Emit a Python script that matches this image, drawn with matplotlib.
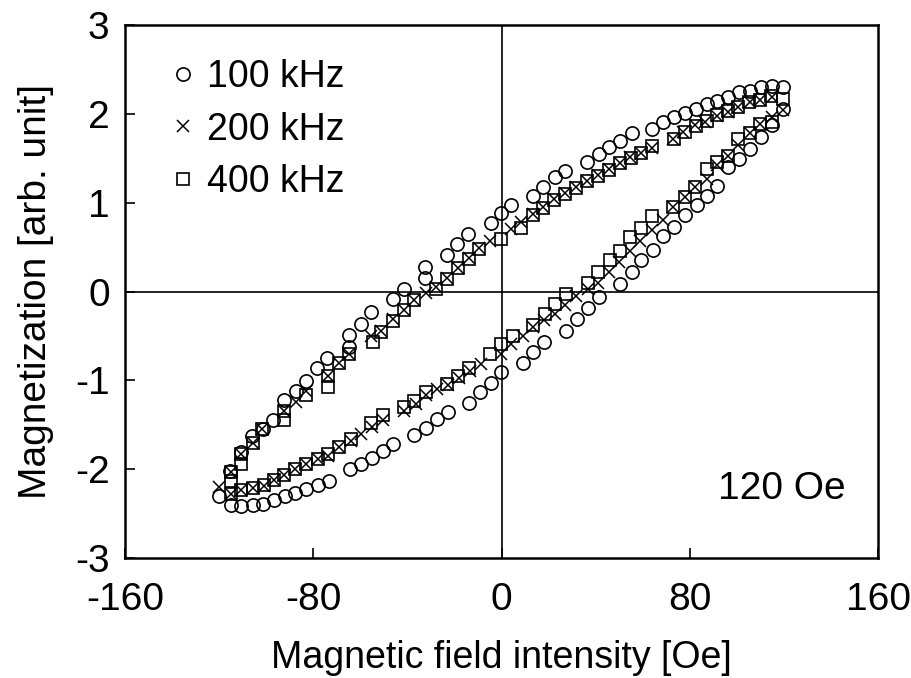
import numpy as np
import matplotlib
matplotlib.use("Agg")
import matplotlib.pyplot as plt

plt.rcParams['font.family'] = ['Liberation Sans', 'DejaVu Sans']

# 100 kHz (circles): lower branch then upper branch
h100 = [-120.0, -115.0, -110.5, -105.8, -101.2, -96.6, -92.1, -87.6, -83.0, -78.2, -73.5,
        -64.5, -59.7, -55.1, -50.5, -46.2, -37.0, -32.3, -27.5, -22.8, -13.9, -9.2, -4.4,
        -0.1, 9.1, 13.3, 17.9, 27.2, 32.0, 36.7, 41.4, 50.2, 55.2, 59.4, 64.2, 68.6, 73.4,
        77.9, 82.8, 87.1, 91.5, 96.3, 100.8, 105.5, 110.0, 114.8, 119.4,
        119.4, 114.8, 110.1, 105.5, 101.0, 96.2, 91.6, 87.1, 82.5, 77.9, 73.2, 68.6, 64.1,
        55.2, 50.2, 45.6, 41.3, 36.3, 26.8, 22.6, 17.6, 13.3, 4.1, -0.1, -4.6, -14.1,
        -18.8, -23.0, -32.5, -32.5, -41.3, -46.3, -55.4, -59.7, -64.7, -64.7, -74.3,
        -78.6, -83.1, -87.4, -92.3, -97.1, -101.4, -106.0, -110.8, -115.2]
m100 = [-2.30, -2.40, -2.42, -2.40, -2.39, -2.35, -2.30, -2.27, -2.22, -2.18, -2.13,
        -2.00, -1.94, -1.87, -1.79, -1.72, -1.62, -1.54, -1.43, -1.36, -1.25, -1.13, -1.03,
        -0.91, -0.80, -0.68, -0.57, -0.44, -0.31, -0.18, -0.06, 0.09, 0.22, 0.35, 0.47, 0.62,
        0.73, 0.86, 0.97, 1.08, 1.19, 1.40, 1.49, 1.60, 1.74, 1.87, 2.05,
        2.30, 2.31, 2.30, 2.26, 2.25, 2.19, 2.15, 2.11, 2.05, 2.01, 1.96, 1.91, 1.83,
        1.78, 1.70, 1.63, 1.55, 1.46, 1.36, 1.29, 1.18, 1.08, 0.97, 0.88, 0.77, 0.65,
        0.53, 0.41, 0.28, 0.15, 0.03, -0.08, -0.23, -0.36, -0.49, -0.62, -0.75,
        -0.86, -1.01, -1.12, -1.22, -1.45, -1.55, -1.63, -1.81, -2.02]

# 200 kHz (crosses)
h200 = [-115.0, -110.8, -105.8, -101.1, -96.6, -92.3, -87.8, -83.1, -78.2, -73.6, -68.9,
        -63.8, -59.7, -55.0, -50.5, -41.3, -36.5, -32.0, -27.5, -22.8, -18.3, -13.6, -8.6,
        -0.1, 4.1, 9.0, 13.3, 18.0, 22.6, 27.0, 31.8, 36.5, 41.0, 45.5, 50.0, 54.5, 59.0,
        63.7, 68.4, 72.9, 77.9, 82.1, 87.1, 91.4, 96.3, 100.5, 105.5, 109.8, 114.8, 119.4,
        114.8, 109.8, 105.5, 100.5, 96.3, 91.4, 86.4, 82.1, 77.1, 72.9, 64.0, 59.4, 54.5,
        50.2, 45.5, 41.0, 36.3, 31.8, 26.8, 22.1, 17.6, 13.3, 8.4, 4.1, -5.1, -9.4, -13.9,
        -18.6, -23.3, -27.8, -32.3, -37.0, -41.3, -46.3, -51.2, -55.4, -64.7, -68.9, -73.9,
        -83.1, -87.5, -92.3, -101.6, -105.8, -110.8, -115.0, -120.0]
m200 = [-2.28, -2.24, -2.21, -2.19, -2.12, -2.06, -2.00, -1.94, -1.89, -1.85, -1.75,
        -1.68, -1.60, -1.52, -1.45, -1.35, -1.27, -1.17, -1.10, -1.05, -0.97, -0.90, -0.82,
        -0.70, -0.59, -0.50, -0.40, -0.32, -0.25, -0.15, -0.05, 0.03, 0.10, 0.22, 0.33, 0.46,
        0.57, 0.69, 0.80, 0.95, 1.06, 1.18, 1.27, 1.43, 1.53, 1.65, 1.78, 1.89, 1.96, 2.04,
        2.19, 2.16, 2.13, 2.08, 2.02, 1.98, 1.91, 1.87, 1.80, 1.72, 1.62, 1.56, 1.51,
        1.45, 1.38, 1.31, 1.25, 1.18, 1.11, 1.04, 0.95, 0.87, 0.78, 0.70, 0.57, 0.49, 0.38,
        0.27, 0.15, 0.05, -0.02, -0.10, -0.21, -0.31, -0.44, -0.50, -0.70, -0.81, -0.95,
        -1.12, -1.24, -1.34, -1.55, -1.70, -1.83, -2.03, -2.20]

# 400 kHz (squares)
h400 = [-115.0, -110.8, -105.8, -101.1, -96.6, -92.3, -87.8, -83.1, -78.2, -73.6, -68.9,
        -63.8, -55.4, -50.5, -41.3, -37.0, -32.3, -23.3, -18.6, -13.9, -5.1, -0.1, 4.8,
        13.3, 18.3, 22.6, 27.2, 36.7, 41.0, 46.0, 50.2, 54.5, 59.4, 63.7, 72.9, 77.9, 82.1,
        87.1, 91.4, 96.3, 100.5, 105.5, 109.8, 114.8, 119.4,
        114.3, 109.8, 105.2, 100.5, 96.0, 91.6, 87.1, 82.5, 77.9, 73.2, 63.7, 59.4, 55.0,
        50.2, 45.5, 41.0, 36.3, 31.8, 26.8, 22.1, 17.6, 13.3, 8.4, -0.1, -9.4, -13.9, -18.6,
        -23.3, -27.8, -37.0, -41.3, -46.3, -51.2, -54.8, -64.7, -68.9, -73.9, -73.9, -83.1,
        -92.3, -92.3, -101.6, -105.8, -110.8, -110.8, -115.0, -115.0]
m400 = [-2.28, -2.24, -2.21, -2.18, -2.12, -2.06, -2.00, -1.94, -1.88, -1.83, -1.75,
        -1.66, -1.48, -1.39, -1.30, -1.23, -1.13, -1.04, -0.95, -0.86, -0.70, -0.59, -0.50,
        -0.38, -0.25, -0.14, -0.03, 0.10, 0.22, 0.35, 0.46, 0.61, 0.72, 0.85, 0.95, 1.06, 1.18,
        1.38, 1.46, 1.53, 1.72, 1.78, 1.89, 1.91, 2.17,
        2.20, 2.16, 2.13, 2.08, 2.03, 1.99, 1.92, 1.86, 1.80, 1.72, 1.64, 1.56, 1.50,
        1.45, 1.37, 1.30, 1.25, 1.17, 1.10, 1.03, 0.94, 0.86, 0.72, 0.59, 0.48, 0.37, 0.26,
        0.14, 0.03, -0.10, -0.21, -0.33, -0.46, -0.57, -0.70, -0.81, -0.95, -1.08, -1.16,
        -1.34, -1.45, -1.55, -1.70, -1.83, -1.94, -2.03, -2.13]

fig = plt.figure(figsize=(9.12, 6.78), dpi=100)
ax = fig.add_axes([0.137, 0.177, 0.826, 0.786])

ax.axhline(0, color='black', lw=1.2, zorder=1)
ax.axvline(0, color='black', lw=1.2, zorder=1)

ax.plot(h100, m100, 'o', ms=9.5, mfc='none', mec='black', mew=1.2, ls='none', label='100 kHz')
ax.plot(h200, m200, 'x', ms=8, color='black', mew=1.1, ls='none', label='200 kHz')
ax.plot(h400, m400, 's', ms=8, mfc='none', mec='black', mew=1.2, ls='none', label='400 kHz')

ax.set_xlim(-160, 160)
ax.set_ylim(-3, 3)
ax.set_xticks([-160, -80, 0, 80, 160])
ax.set_yticks([-3, -2, -1, 0, 1, 2, 3])
ax.set_yticklabels(['-3', '-2', '-1', '0', '1', '2', '3'])
ax.set_xticklabels(['-160', '-80', '0', '80', '160'])
ax.tick_params(direction='in', length=7, width=1.2, labelsize=28)
ax.tick_params(axis='x', pad=17)
ax.tick_params(axis='y', pad=11)
for s in ax.spines.values():
    s.set_linewidth(1.8)

ax.set_xlabel('Magnetic field intensity [Oe]', fontsize=27, labelpad=16)
ax.set_ylabel('Magnetization [arb. unit]', fontsize=28, labelpad=15)

ax.legend(loc='upper left', bbox_to_anchor=(0.042, 0.965), frameon=False, fontsize=27,
          handlelength=0.6, handletextpad=0.35, labelspacing=0.45, borderaxespad=0)
ax.text(0.872, 0.13, '120 Oe', transform=ax.transAxes, fontsize=28, ha='center', va='center')

fig.savefig('out.png', dpi=100)
